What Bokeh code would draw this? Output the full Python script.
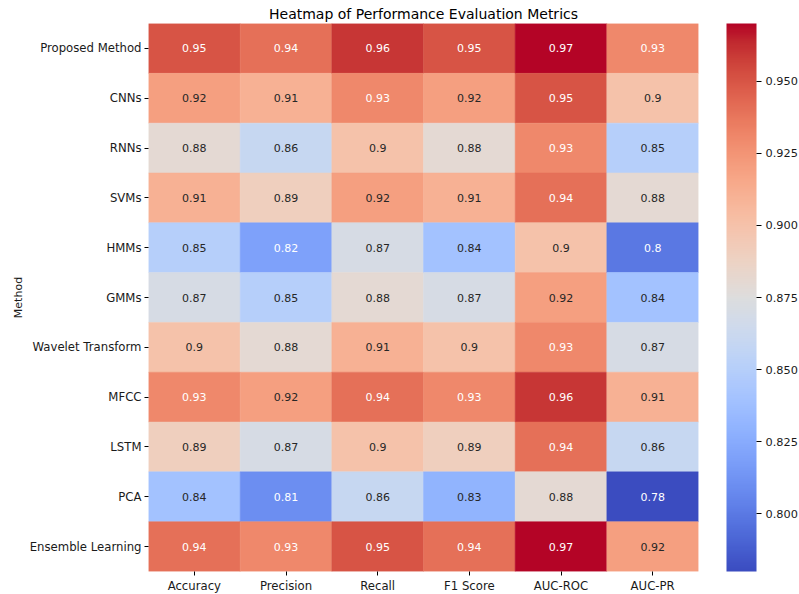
import numpy as np
from bokeh.plotting import figure
from bokeh.models import (ColumnDataSource, LinearColorMapper, ColorBar,
                          FixedTicker, PrintfTickFormatter)
from bokeh.transform import transform
from bokeh.core.properties import value
from bokeh.embed import file_html
from bokeh.resources import INLINE

# ---- data -------------------------------------------------------------
methods = ["Proposed Method", "CNNs", "RNNs", "SVMs", "HMMs", "GMMs",
           "Wavelet Transform", "MFCC", "LSTM", "PCA", "Ensemble Learning"]
metrics = ["Accuracy", "Precision", "Recall", "F1 Score", "AUC-ROC", "AUC-PR"]

accuracy = [0.95, 0.92, 0.88, 0.91, 0.85, 0.87, 0.90, 0.93, 0.89, 0.84, 0.94]
precision = [0.94, 0.91, 0.86, 0.89, 0.82, 0.85, 0.88, 0.92, 0.87, 0.81, 0.93]
recall = [0.96, 0.93, 0.90, 0.92, 0.87, 0.88, 0.91, 0.94, 0.90, 0.86, 0.95]
f1_score = [0.95, 0.92, 0.88, 0.91, 0.84, 0.87, 0.90, 0.93, 0.89, 0.83, 0.94]
auc_roc = [0.97, 0.95, 0.93, 0.94, 0.90, 0.92, 0.93, 0.96, 0.94, 0.88, 0.97]
auc_pr = [0.93, 0.90, 0.85, 0.88, 0.80, 0.84, 0.87, 0.91, 0.86, 0.78, 0.92]

colorbar_ticks = [0.800, 0.825, 0.850, 0.875, 0.900, 0.925, 0.950]
vmin, vmax = 0.78, 0.97

# ---- coolwarm palette (Moreland diverging map anchors) ----------------
cw_anchors = [
    (59, 76, 192), (68, 90, 204), (77, 104, 215), (87, 117, 225),
    (98, 130, 234), (108, 142, 241), (119, 154, 247), (130, 165, 251),
    (141, 176, 254), (152, 185, 255), (163, 194, 255), (174, 201, 253),
    (184, 208, 249), (194, 213, 244), (204, 217, 238), (213, 219, 230),
    (221, 221, 221), (229, 216, 209), (236, 211, 197), (241, 204, 185),
    (245, 196, 173), (247, 187, 160), (247, 177, 148), (247, 166, 135),
    (244, 154, 123), (241, 141, 111), (236, 127, 99), (229, 112, 88),
    (222, 96, 77), (213, 80, 66), (203, 62, 56), (192, 40, 47), (180, 4, 38)]
anc = np.array(cw_anchors, dtype=float)
anc_pos = np.linspace(0, 1, len(anc))
pal_pos = np.linspace(0, 1, 256)
pal_rgb = np.stack([np.interp(pal_pos, anc_pos, anc[:, k]) for k in range(3)], axis=1)
palette = ["#%02x%02x%02x" % tuple(int(round(c)) for c in rgb) for rgb in pal_rgb]


def cell_rgb(v):
    idx = int(np.clip((v - vmin) / (vmax - vmin), 0, 1) * 255)
    return pal_rgb[idx] / 255.0


def luminance(rgb):
    lin = np.where(rgb <= 0.03928, rgb / 12.92, ((rgb + 0.055) / 1.055) ** 2.4)
    return 0.2126 * lin[0] + 0.7152 * lin[1] + 0.0722 * lin[2]


columns = [accuracy, precision, recall, f1_score, auc_roc, auc_pr]
xs, ys, vals, labels, text_colors = [], [], [], [], []
for j, metric in enumerate(metrics):
    for i, method in enumerate(methods):
        v = columns[j][i]
        xs.append(metric)
        ys.append(method)
        vals.append(v)
        labels.append(format(v, ".2g"))
        text_colors.append("#ffffff" if luminance(cell_rgb(v)) < 0.408 else "#262626")

source = ColumnDataSource(dict(x=xs, y=ys, v=vals, label=labels, tc=text_colors))
mapper = LinearColorMapper(palette=palette, low=vmin, high=vmax)

FONT = "DejaVu Sans"
TICK_SIZE = "11.7px"

p = figure(x_range=metrics, y_range=list(reversed(methods)),
           frame_width=550, frame_height=548,
           min_border_left=148, min_border_right=101,
           min_border_top=23, min_border_bottom=23,
           output_backend="svg", toolbar_location=None,
           title="Heatmap of Performance Evaluation Metrics")

p.rect(x="x", y="y", width=1, height=1, source=source,
       fill_color=transform("v", mapper), line_color=transform("v", mapper),
       line_width=0.5)
p.text(x="x", y="y", text="label", source=source, text_color="tc",
       text_align="center", text_baseline="middle",
       text_font=value(FONT), text_font_size="11px")

p.title.align = "center"
p.title.text_font = FONT
p.title.text_font_size = "14px"
p.title.text_font_style = "normal"
p.title.text_color = "#000000"
p.title.standoff = 4

for ax in (p.xaxis, p.yaxis):
    ax.axis_line_color = None
    ax.major_tick_in = 0
    ax.major_tick_out = 4
    ax.major_tick_line_color = "#000000"
    ax.minor_tick_line_color = None
    ax.major_label_text_font = FONT
    ax.major_label_text_font_size = TICK_SIZE
    ax.major_label_text_color = "#1a1a1a"
    ax.major_label_standoff = 3

p.yaxis.axis_label = "Method"
p.yaxis.axis_label_text_font = FONT
p.yaxis.axis_label_text_font_size = "11px"
p.yaxis.axis_label_text_font_style = "normal"
p.yaxis.axis_label_text_color = "#1a1a1a"
p.yaxis.axis_label_standoff = 2

p.xgrid.grid_line_color = None
p.ygrid.grid_line_color = None
p.outline_line_color = None

# colour bar sits to the right of the frame, same height as the heatmap
cb = ColorBar(color_mapper=mapper, ticker=FixedTicker(ticks=colorbar_ticks),
              formatter=PrintfTickFormatter(format="%.3f"),
              width=30, height=548, padding=0, margin=0,
              location=(578, 0),
              major_tick_in=0, major_tick_out=5,
              major_tick_line_color="#000000",
              major_label_text_font=FONT,
              major_label_text_font_size="11.3px",
              major_label_text_color="#1a1a1a",
              label_standoff=4, bar_line_color=None,
              border_line_color=None, background_fill_alpha=0)
p.add_layout(cb, "center")

open("out.html", "w").write(file_html(p, INLINE))
